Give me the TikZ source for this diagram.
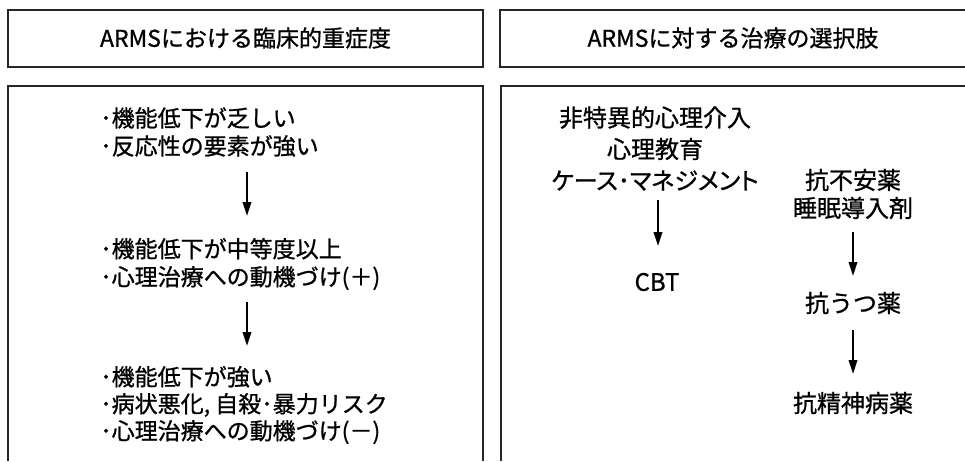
\documentclass[tikz,border=0pt]{standalone}
\usepackage{fontspec}
\setmainfont{Noto Sans CJK JP}[FakeBold=0.9]
\usetikzlibrary{arrows.meta}
\tikzset{
  frame/.style={line width=1.4pt, draw=black!85},
  hdr/.style={font=\fontsize{23}{26}\selectfont, inner sep=0pt},
  body/.style={font=\fontsize{23}{28}\selectfont, inner sep=0pt, align=left, anchor=west},
  cbody/.style={font=\fontsize{24}{30}\selectfont, inner sep=0pt, align=center},
  arr/.style={line width=2pt, draw=black, -{Triangle[width=8.5pt,length=14pt]}}
}
\begin{document}
\begin{tikzpicture}[x=1pt,y=-1pt]
\useasboundingbox (0,0) rectangle (965,461);
% frames
\draw[frame] (8,10) rectangle (483,67);
\draw[frame] (965,10) -- (500,10) -- (500,67) -- (965,67);
\draw[frame] (8,461) -- (8,86) -- (483,86) -- (483,461);
\draw[frame] (501,461) -- (501,86) -- (965,86);
% headers
\node[hdr] (h1) at (245.5,38) {ARMSにおける臨床的重症度};
\node[hdr] (h2) at (733,38) {ARMSに対する治療の選択肢};
% left column
\node[body] (l1) at (100,132) {･機能低下が乏しい\\･反応性の要素が強い};
\node[body] (l2) at (100,264) {･機能低下が中等度以上\\･心理治療への動機づけ(＋)};
\node[body, font=\fontsize{23}{27}\selectfont] (l3) at (100,405) {･機能低下が強い\\･病状悪化, 自殺･暴力リスク\\･心理治療への動機づけ(－)};
\coordinate (a1s) at (247,172);
\coordinate (a1e) at (247,216);
\coordinate (a2s) at (247,302);
\coordinate (a2e) at (247,346);
\draw[arr] (a1s) -- (a1e);
\draw[arr] (a2s) -- (a2e);
% right column
\node[cbody, font=\fontsize{24}{31.5}\selectfont] (r1) at (655,148.5) {非特異的心理介入\\心理教育\\{\addfontfeature{RawFeature=+palt}ケース･マネジメント}};
\node[cbody] (cbt) at (657,282) {CBT};
\node[cbody, font=\fontsize{24}{28}\selectfont] (r2) at (853,194) {抗不安薬\\睡眠導入剤};
\node[cbody] (r3) at (853,303) {抗うつ薬};
\node[cbody] (r4) at (853,403) {抗精神病薬};
\coordinate (b1s) at (658,200);
\coordinate (b1e) at (658,246);
\coordinate (c1s) at (853,232);
\coordinate (c1e) at (853,276);
\coordinate (c2s) at (853,330);
\coordinate (c2e) at (853,374);
\draw[arr] (b1s) -- (b1e);
\draw[arr] (c1s) -- (c1e);
\draw[arr] (c2s) -- (c2e);
\end{tikzpicture}
\end{document}
